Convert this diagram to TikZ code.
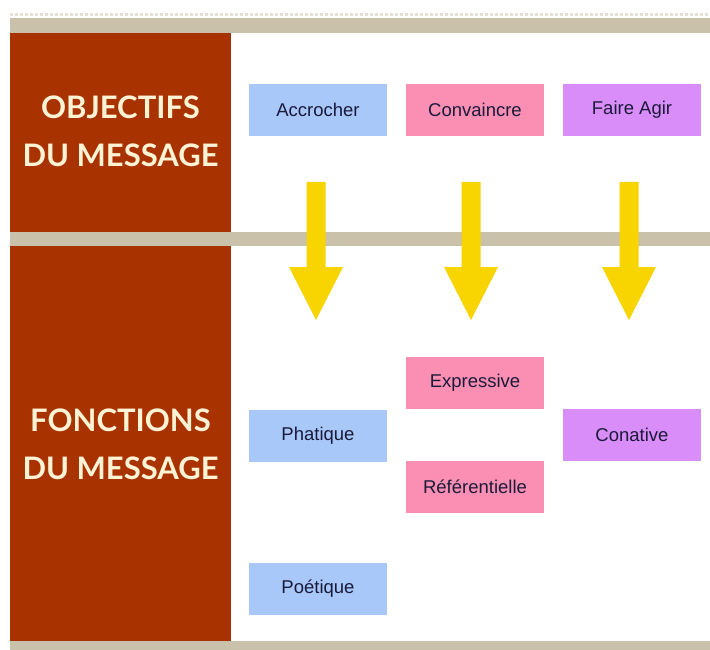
\documentclass[tikz,border=0pt]{standalone}
\usepackage{fontspec}
\setmainfont{Liberation Sans}
\newfontfamily\headfont{Lato}
\definecolor{panelred}{HTML}{A83200}
\definecolor{beige}{HTML}{C9C1A9}
\definecolor{cream}{HTML}{FFF3D6}
\definecolor{boxblue}{HTML}{A8C8FA}
\definecolor{boxpink}{HTML}{FA8FB3}
\definecolor{boxpurple}{HTML}{D98DF8}
\definecolor{arrowyellow}{HTML}{F8D400}
\definecolor{txtdark}{HTML}{1A1A3A}
\begin{document}
\begin{tikzpicture}[x=1pt,y=-1pt,
  msgbox/.style={rectangle, minimum width=138pt, minimum height=52pt, inner sep=0pt,
    text=txtdark, font=\fontsize{18.5}{20}\selectfont},
  headtext/.style={text=cream, align=center, font=\headfont\bfseries\fontsize{31}{48}\selectfont},
  band/.style={fill=beige},
  yarrow/.style={fill=arrowyellow}]
\useasboundingbox (0,0) rectangle (710,650);
\fill[white] (0,0) rectangle (710,650);
% top dotted band
\draw[beige!50, dotted, line width=3pt] (10,15) -- (710,15);
% beige bands
\fill[band] (10,18) rectangle (710,33);
\fill[band] (10,232) rectangle (710,246);
\fill[band] (10,641) rectangle (710,650);
% red panels
\fill[panelred] (10,33) rectangle (231,232);
\fill[panelred] (10,246) rectangle (231,641);
% headings
\node[headtext] (obj) at (120.5,131) {OBJECTIFS\\DU MESSAGE};
\node[headtext] (fon) at (120.5,444) {FONCTIONS\\DU MESSAGE};
% top boxes
\node[msgbox, fill=boxblue] (acc) at (318,110) {Accrocher};
\node[msgbox, fill=boxpink] (conv) at (475,110) {Convaincre};
\node[msgbox, fill=boxpurple] (fair) at (632,110) {Faire Agir};
% function boxes
\node[msgbox, fill=boxpink] (expr) at (475,383) {Expressive};
\node[msgbox, fill=boxpurple] (cona) at (632,435) {Conative};
\node[msgbox, fill=boxpink] (refe) at (475,487) {Référentielle};
\node[msgbox, fill=boxblue] (phat) at (318,435.5) {Phatique};
\node[msgbox, fill=boxblue] (poet) at (318,589) {Poétique};
% yellow block arrows
\foreach \cx in {316,471,629} {
  \fill[yarrow] (\cx-9.5,182) -- (\cx+9.5,182) -- (\cx+9.5,267) -- (\cx+27,267)
    -- (\cx,320) -- (\cx-27,267) -- (\cx-9.5,267) -- cycle;
}
\end{tikzpicture}
\end{document}
